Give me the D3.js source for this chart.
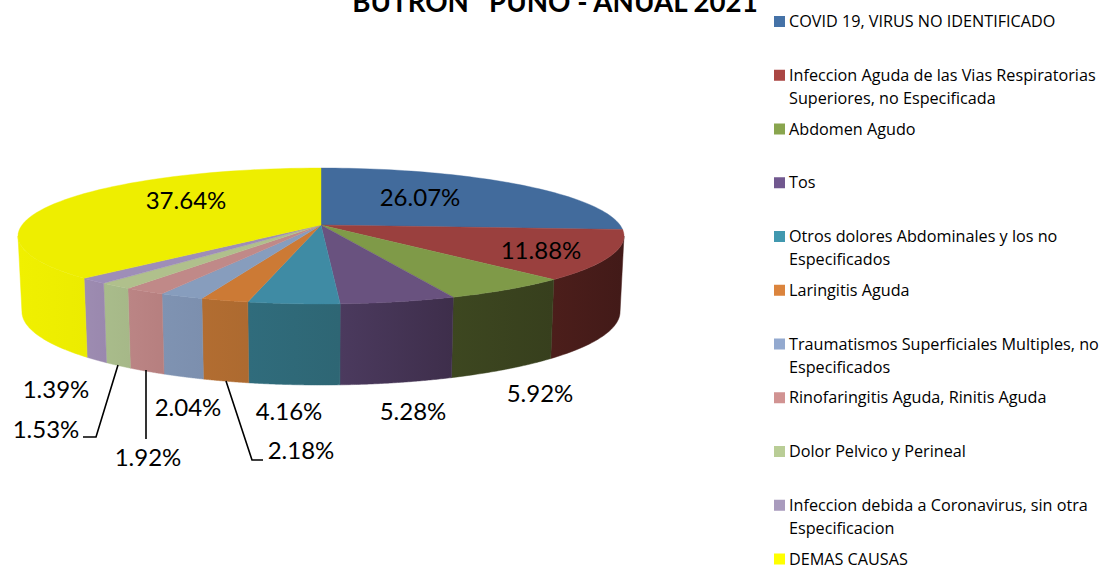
<!DOCTYPE html>
<html><head><meta charset="utf-8">
<script src="https://cdn.jsdelivr.net/npm/d3@7"></script>
<style>
html,body{margin:0;padding:0;background:#fff;overflow:hidden}
svg{display:block}
text{font-family:Lato,"Open Sans",sans-serif;fill:#000}
</style></head><body>
<svg id="c" width="1104" height="565"></svg>
<script>
const categories=["COVID 19, VIRUS NO IDENTIFICADO","Infeccion Aguda de las Vias Respiratorias Superiores, no Especificada","Abdomen Agudo","Tos","Otros dolores Abdominales y los no Especificados","Laringitis Aguda","Traumatismos Superficiales Multiples, no Especificados","Rinofaringitis Aguda, Rinitis Aguda","Dolor Pelvico y Perineal","Infeccion debida a Coronavirus, sin otra Especificacion","DEMAS CAUSAS"];
const values=[26.07,11.88,5.92,5.28,4.16,2.18,2.04,1.92,1.53,1.39,37.64];
const legendLines=[["COVID 19, VIRUS NO IDENTIFICADO"],["Infeccion Aguda de las Vias Respiratorias","Superiores, no Especificada"],["Abdomen Agudo"],["Tos"],["Otros dolores Abdominales y los no","Especificados"],["Laringitis Aguda"],["Traumatismos Superficiales Multiples, no","Especificados"],["Rinofaringitis Aguda, Rinitis Aguda"],["Dolor Pelvico y Perineal"],["Infeccion debida a Coronavirus, sin otra","Especificacion"],["DEMAS CAUSAS"]];
const legendColors=["#4572A7","#AA4643","#89A54E","#71588F","#4198AF","#DB843D","#93A9CF","#D19392","#B9CD96","#A99BBD","#FFFF00"];
const topColors=["#426b9c","#9a403e","#7f9a48","#69527f","#3f8ba4","#cc7a35","#879dbd","#c08988","#b0c08c","#9e8eb8","#eeee00"];
const sideStart=["#33507a","#4c1e1b","#3d4720","#4b3a5e","#306c7c","#b26d31","#7f93b2","#bb8585","#a9bc8b","#9d8cb1","#f0f000"];
const sideEnd=["#33507a","#421a18","#373f1d","#3e2e4b","#2e6674","#ad6a30","#7c8fae","#b67f7f","#a6b888","#9a88ae","#ecec00"];
const labelPos=[[420,198],[541,251],[540,394],[413,412],[289,412],[301,451],[188,408],[148,458],[46,430],[56,390],[186,201]];
const leaders=[null,null,null,null,null,[[226,381],[252,460],[263,460]],null,[[146,370],[146,439]],[[118,365],[96,437],[83,437]],null,null];

const svg=d3.select("#c");
const defs=svg.append("defs");
const cx=321,cy=225,A=299,B=66.2,K=0.1618,botX=0.987,botY=1.08,depth=74.7;
const proj=(t)=>{const u=Math.sin(t),v=Math.cos(t),d=1+K*v;return [cx+A*u/d,cy-B*v/d];};
const projBot=(t)=>{const p=proj(t);return [cx+(p[0]-cx)*botX,cy+(p[1]-cy)*botY+depth];};
const arcs=d3.pie().sort(null).value(d=>d)(values);
const line=d3.line();
const samples=(a,b)=>d3.range(0,61).map(i=>a+(b-a)*i/60);
const frontStart=Math.acos(-K),frontEnd=2*Math.PI-frontStart;

const sideG=svg.append("g");
arcs.forEach((a,i)=>{
  const s=Math.max(a.startAngle,frontStart),e=Math.min(a.endAngle,frontEnd);
  if(e<=s) return;
  const ts=samples(s,e);
  const pts=ts.map(proj).concat(ts.slice().reverse().map(projBot));
  const xs=pts.map(p=>p[0]);
  const g=defs.append("linearGradient").attr("id","g"+i).attr("gradientUnits","userSpaceOnUse")
    .attr("x1",d3.min(xs)).attr("x2",d3.max(xs)).attr("y1",0).attr("y2",0);
  g.append("stop").attr("offset",0).attr("stop-color",sideStart[i]);
  g.append("stop").attr("offset",1).attr("stop-color",sideEnd[i]);
  sideG.append("path").attr("d",line(pts)+"Z").attr("fill",`url(#g${i})`).attr("stroke",`url(#g${i})`).attr("stroke-width",0.5);
});
const topG=svg.append("g");
arcs.forEach((a,i)=>{
  const pts=[[cx,cy]].concat(samples(a.startAngle,a.endAngle).map(proj));
  topG.append("path").attr("d",line(pts)+"Z").attr("fill",topColors[i]).attr("stroke",topColors[i]).attr("stroke-width",0.4);
});
leaders.forEach(l=>{ if(l) svg.append("path").attr("d",line(l)).attr("fill","none").attr("stroke","#000").attr("stroke-width",1.6); });
const fmt=d3.format(".2f");
values.forEach((v,i)=>{
  svg.append("text").attr("x",labelPos[i][0]).attr("y",labelPos[i][1]).attr("dy","0.35em")
    .attr("text-anchor","middle").attr("font-size",24).text(fmt(v)+"%");
});
svg.append("text").attr("x",555).attr("y",12).attr("text-anchor","middle").attr("font-size",27.7).attr("font-weight",700).attr("xml:space","preserve").text("BUTRON   PUNO - ANUAL 2021");
const ly=d3.scalePoint().domain(d3.range(categories.length)).range([21.5,559]);
const lg=svg.append("g");
categories.forEach((c,i)=>{
  const y=ly(i);
  lg.append("rect").attr("x",774).attr("y",y-5.5).attr("width",11).attr("height",11).attr("fill",legendColors[i]);
  legendLines[i].forEach((t,j)=>{
    lg.append("text").attr("x",789).attr("y",y+j*23).attr("dy","0.35em").attr("font-size",16.2).style("font-family","'Open Sans'").attr("fill","#111").text(t);
  });
});
</script></body></html>
